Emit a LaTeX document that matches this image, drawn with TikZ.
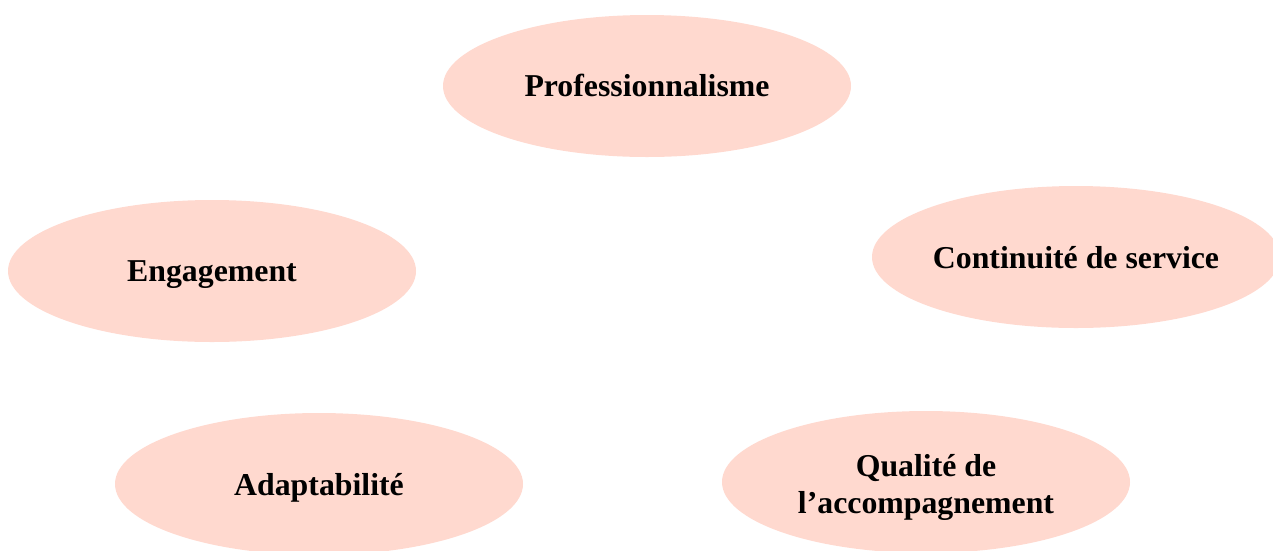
\documentclass[tikz,border=0pt]{standalone}
\usepackage{fontspec}
\setmainfont{Liberation Serif}
\usetikzlibrary{shapes.geometric}
\definecolor{pill}{RGB}{255,217,207}
\begin{document}
\begin{tikzpicture}[x=1pt,y=-1pt,
  oval/.style={ellipse, fill=pill, draw=none, minimum width=408pt, minimum height=142pt, inner sep=0pt},
  lbl/.style={font=\fontsize{31.8}{37}\selectfont\bfseries, align=center, text=black, inner sep=0pt}]
\useasboundingbox (0,0) rectangle (1273,550);
\clip (0,0) rectangle (1273,550);
\node[oval] (prof) at (647,86) {};
\node[oval] (eng) at (212,271) {};
\node[oval] (cont) at (1076,257) {};
\node[oval] (adap) at (319,484) {};
\node[oval] (qual) at (926,482) {};
\node[lbl] (tprof) at ([yshift=1pt]prof.center) {Professionnalisme};
\node[lbl] (teng) at ([yshift=-4pt]eng.center) {Engagement};
\node[lbl] (tcont) at ([yshift=-1pt]cont.center) {Continuité de service};
\node[lbl] (tadap) at ([yshift=-4pt]adap.center) {Adaptabilité};
\node[lbl] (tqual) at ([yshift=-5pt]qual.center) {Qualité de\\l’accompagnement};
\end{tikzpicture}
\end{document}
